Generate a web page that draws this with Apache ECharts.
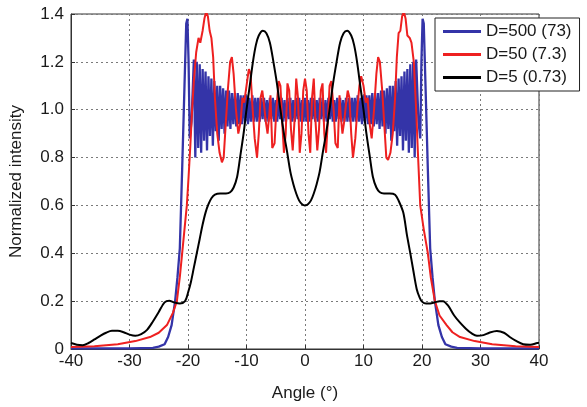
<!DOCTYPE html>
<html>
<head>
<meta charset="utf-8">
<script src="https://cdn.jsdelivr.net/npm/echarts@6/dist/echarts.min.js"></script>
<style>
html,body{margin:0;padding:0;background:#fff;}
#chart{width:587px;height:407px;}
</style>
</head>
<body>
<div id="chart"></div>
<script>
// ---------- data ----------
const seriesNames = ['D=500 (73)', 'D=50 (7.3)', 'D=5 (0.73)'];
const xTicks = [-40, -30, -20, -10, 0, 10, 20, 30, 40];
const yTicks = [0, 0.2, 0.4, 0.6, 0.8, 1.0, 1.2, 1.4];

// D=500 : outer parts as [angle, value]
const blueLeft = [[-40,0.003],[-30,0.003],[-26,0.005],[-25,0.01],[-24,0.02],[-23.4,0.05],[-22.8,0.1],[-22.2,0.2],[-21.8,0.3],[-21.4,0.42],[-21.0,0.75],[-20.6,1.1],[-20.3,1.36],[-20.1,1.38],[-19.9,1.2],[-19.7,0.88],[-19.4,0.95],[-19.0,1.21]];
// D=500 : dense oscillating band, sampled every 0.25 deg from -18.75 to 18.75
const blueBandStart = -18.75;
const blueBandStep = 0.25;
const blueBand = [
0.80,1.20,0.84,1.19,0.82,1.17,0.87,1.16,0.83,1.14,
0.89,1.13,0.85,1.12,0.91,1.10,0.87,1.10,0.92,1.09,
0.90,1.08,0.93,1.08,0.92,1.07,0.94,1.07,0.93,1.07,
0.94,1.06,0.94,1.06,0.95,1.06,0.94,1.05,0.95,1.06,
0.95,1.05,0.95,1.05,0.95,1.05,0.96,1.05,0.95,1.04,
0.95,1.05,0.96,1.05,0.95,1.04,0.95,1.05,0.96,1.05,
0.95,1.04,0.95,1.05,0.96,1.05,0.95,1.04,0.95,1.05,
0.96,1.05,0.95,1.04,0.95,1.05,0.95,1.04,0.95,1.05,
0.96,1.05,0.95,1.04,0.95,1.05,0.96,1.05,0.95,1.04,
0.95,1.05,0.96,1.05,0.95,1.04,0.95,1.05,0.96,1.05,
0.95,1.04,0.95,1.05,0.95,1.05,0.95,1.05,0.95,1.05,
0.95,1.06,0.95,1.05,0.94,1.06,0.95,1.06,0.94,1.06,
0.94,1.07,0.93,1.07,0.94,1.07,0.92,1.08,0.93,1.08,
0.90,1.09,0.92,1.10,0.87,1.10,0.91,1.12,0.85,1.13,
0.89,1.14,0.83,1.16,0.87,1.17,0.82,1.19,0.84,1.20,
0.80];
const blueRight = [[19.0,1.21],[19.4,0.95],[19.7,0.88],[19.9,1.2],[20.1,1.38],[20.3,1.36],[20.6,1.1],[21.0,0.75],[21.4,0.42],[21.8,0.3],[22.2,0.2],[22.8,0.1],[23.4,0.05],[24,0.02],[25,0.01],[26,0.005],[30,0.003],[40,0.003]];

// D=50
const redCurve = [[-40,0.008],[-36,0.012],[-32,0.02],[-29,0.033],[-26.5,0.05],[-25,0.068],[-23.6,0.1],[-22.6,0.15],[-21.9,0.2],[-21.4,0.3],[-21.0,0.4],[-20.6,0.5],[-20.2,0.6],[-19.9,0.72],[-19.6,0.85],[-19.3,1.0],[-19.0,1.12],[-18.6,1.24],[-18.2,1.3],[-17.9,1.28],[-17.5,1.33],[-17.2,1.38],[-16.9,1.41],[-16.6,1.39],[-16.3,1.33],[-16.0,1.30],[-15.7,1.22],[-15.4,1.05],[-15.0,0.9],[-14.6,0.82],[-14.2,0.78],[-13.9,0.8],[-13.6,0.92],[-13.2,1.08],[-12.8,1.2],[-12.5,1.22],[-12.2,1.15],[-11.8,1.0],[-11.4,0.9],[-11.0,0.95],[-10.7,1.05],[-10.4,1.03],[-10.0,1.1],[-9.6,1.17],[-9.3,1.15],[-9.0,1.02],[-8.6,0.88],[-8.2,0.8],[-7.9,0.9],[-7.6,1.05],[-7.3,1.08],[-7.0,1.02],[-6.7,0.95],[-6.4,0.9],[-6.1,0.98],[-5.9,1.06],[-5.6,0.84],[-5.2,0.86],[-4.9,1.0],[-4.5,1.12],[-4.2,1.1],[-3.9,0.95],[-3.6,0.82],[-3.3,0.9],[-3.0,1.11],[-2.7,1.08],[-2.4,0.92],[-2.1,0.83],[-1.8,0.95],[-1.5,1.13],[-1.2,1.05],[-0.9,0.82],[-0.6,0.9],[-0.3,1.08],[0,1.13],
[0.3,1.08],[0.6,0.9],[0.9,0.82],[1.2,1.05],[1.5,1.13],[1.8,0.95],[2.1,0.83],[2.4,0.92],[2.7,1.08],[3.0,1.11],[3.3,0.9],[3.6,0.82],[3.9,0.95],[4.2,1.1],[4.5,1.12],[4.9,1.0],[5.2,0.86],[5.6,0.84],[5.9,1.06],[6.1,0.98],[6.4,0.9],[6.7,0.95],[7.0,1.02],[7.3,1.08],[7.6,1.05],[7.9,0.9],[8.2,0.8],[8.6,0.88],[9.0,1.02],[9.3,1.1],[9.6,1.14],[10.0,1.1],[10.4,1.03],[10.7,1.05],[11.0,0.95],[11.4,0.88],[11.8,1.0],[12.2,1.15],[12.5,1.22],[12.8,1.2],[13.2,1.08],[13.6,0.92],[13.9,0.8],[14.2,0.79],[14.6,0.82],[15.0,0.9],[15.4,1.05],[15.7,1.22],[16.0,1.32],[16.3,1.33],[16.6,1.39],[16.9,1.41],[17.2,1.38],[17.5,1.31],[17.9,1.3],[18.2,1.28],[18.6,1.2],[19.0,1.0],[19.3,0.82],[19.7,0.6],[20.3,0.5],[21.0,0.4],[21.5,0.3],[22.2,0.2],[23.0,0.14],[24.2,0.1],[25.2,0.07],[26.5,0.05],[29,0.033],[32,0.02],[36,0.012],[40,0.008]];

// D=5
const blackCurve = [[-40,0.025],[-39,0.018],[-38,0.016],[-37,0.025],[-36,0.04],[-35,0.055],[-34,0.068],[-33,0.076],[-32,0.076],[-31,0.07],[-30,0.06],[-29,0.055],[-28,0.062],[-27,0.08],[-26,0.115],[-25,0.155],[-24,0.195],[-23.2,0.202],[-22.4,0.195],[-21.4,0.19],[-20.5,0.2],[-20,0.235],[-19.5,0.28],[-19,0.34],[-18.5,0.4],[-18,0.46],[-17.5,0.52],[-17,0.57],[-16.5,0.605],[-16,0.63],[-15.4,0.645],[-14.5,0.65],[-13.5,0.65],[-12.8,0.655],[-12.2,0.675],[-11.6,0.72],[-11.1,0.8],[-10.5,0.9],[-10,1.0],[-9.5,1.09],[-8.9,1.2],[-8.4,1.27],[-7.9,1.31],[-7.2,1.33],[-6.6,1.32],[-6,1.28],[-5.4,1.2],[-4.8,1.11],[-4.2,1.0],[-3.6,0.9],[-3.1,0.83],[-2.5,0.74],[-2,0.69],[-1.5,0.65],[-1,0.62],[-0.5,0.605],[0,0.6],
[0.5,0.605],[1,0.62],[1.5,0.65],[2,0.69],[2.5,0.74],[3.1,0.83],[3.6,0.9],[4.2,1.0],[4.8,1.11],[5.4,1.2],[6,1.28],[6.6,1.32],[7.2,1.33],[7.9,1.31],[8.4,1.27],[8.9,1.2],[9.5,1.09],[10,1.0],[10.5,0.9],[11.1,0.8],[11.6,0.72],[12.2,0.675],[12.8,0.655],[13.5,0.65],[14.5,0.65],[15.4,0.645],[16,0.62],[16.8,0.57],[17.4,0.48],[18,0.4],[18.5,0.33],[19.1,0.25],[19.6,0.215],[20,0.198],[20.7,0.19],[21.4,0.19],[22.2,0.195],[23,0.2],[23.6,0.2],[24.5,0.18],[25.5,0.14],[26.5,0.11],[27.5,0.085],[28.5,0.065],[29.4,0.055],[30.5,0.058],[31.5,0.068],[32.8,0.075],[34,0.068],[35,0.05],[36,0.035],[37.3,0.02],[38.5,0.018],[39.7,0.025],[40,0.026]];

// ---------- build ----------
const blueCurve = blueLeft.slice();
blueBand.forEach((v, i) => blueCurve.push([blueBandStart + i * blueBandStep, v]));
blueRight.forEach(p => blueCurve.push(p));

const FONT = 'Liberation Sans, Arial, Helvetica, sans-serif';
const chart = echarts.init(document.getElementById('chart'), null, {renderer: 'canvas'});
chart.setOption({
  animation: false,
  backgroundColor: '#fff',
  grid: {left: 71, right: 48, top: 14, bottom: 57, show: true, borderColor: '#333', borderWidth: 1, backgroundColor: 'transparent'},
  legend: {
    orient: 'vertical', left: 435, top: 18,
    padding: [5, 8, 5, 8], itemGap: 6,
    backgroundColor: '#fff', borderColor: '#222', borderWidth: 1,
    icon: 'rect', itemWidth: 38, itemHeight: 3,
    textStyle: {fontFamily: FONT, fontSize: 17, color: '#1a1a1a'},
    data: seriesNames
  },
  xAxis: {
    type: 'value', min: xTicks[0], max: xTicks[xTicks.length - 1], interval: 10,
    name: 'Angle (°)', nameLocation: 'middle', nameGap: 36,
    nameTextStyle: {fontFamily: FONT, fontSize: 17, color: '#1a1a1a'},
    axisLine: {show: true, onZero: false, lineStyle: {color: '#333', width: 1}},
    axisTick: {show: true, inside: true, length: 4, lineStyle: {color: '#333'}},
    axisLabel: {fontFamily: FONT, fontSize: 17, color: '#1a1a1a', margin: 4},
    splitLine: {show: true, lineStyle: {color: '#7a7a7a', type: [2, 3], width: 1}}
  },
  yAxis: {
    type: 'value', min: 0, max: 1.4, interval: 0.2,
    name: 'Normalized intensity', nameLocation: 'middle', nameGap: 46,
    nameTextStyle: {fontFamily: FONT, fontSize: 17, color: '#1a1a1a'},
    axisLine: {show: true, onZero: false, lineStyle: {color: '#333', width: 1}},
    axisTick: {show: true, inside: true, length: 4, lineStyle: {color: '#333'}},
    axisLabel: {fontFamily: FONT, fontSize: 17, color: '#1a1a1a', margin: 7,
      formatter: v => (v === 0 ? '0' : v.toFixed(1))},
    splitLine: {show: true, lineStyle: {color: '#7a7a7a', type: [2, 3], width: 1}}
  },
  series: [
    {name: seriesNames[0], type: 'line', data: blueCurve, showSymbol: false, symbol: 'none',
     lineStyle: {color: '#3434a8', width: 2.3}, itemStyle: {color: '#3434a8'}, z: 2},
    {name: seriesNames[1], type: 'line', data: redCurve, showSymbol: false, symbol: 'none',
     lineStyle: {color: '#ee2020', width: 2}, itemStyle: {color: '#ee2020'}, z: 3},
    {name: seriesNames[2], type: 'line', data: blackCurve, showSymbol: false, symbol: 'none', smooth: 0.3,
     lineStyle: {color: '#000', width: 2}, itemStyle: {color: '#000'}, z: 4}
  ]
});
</script>
</body>
</html>
